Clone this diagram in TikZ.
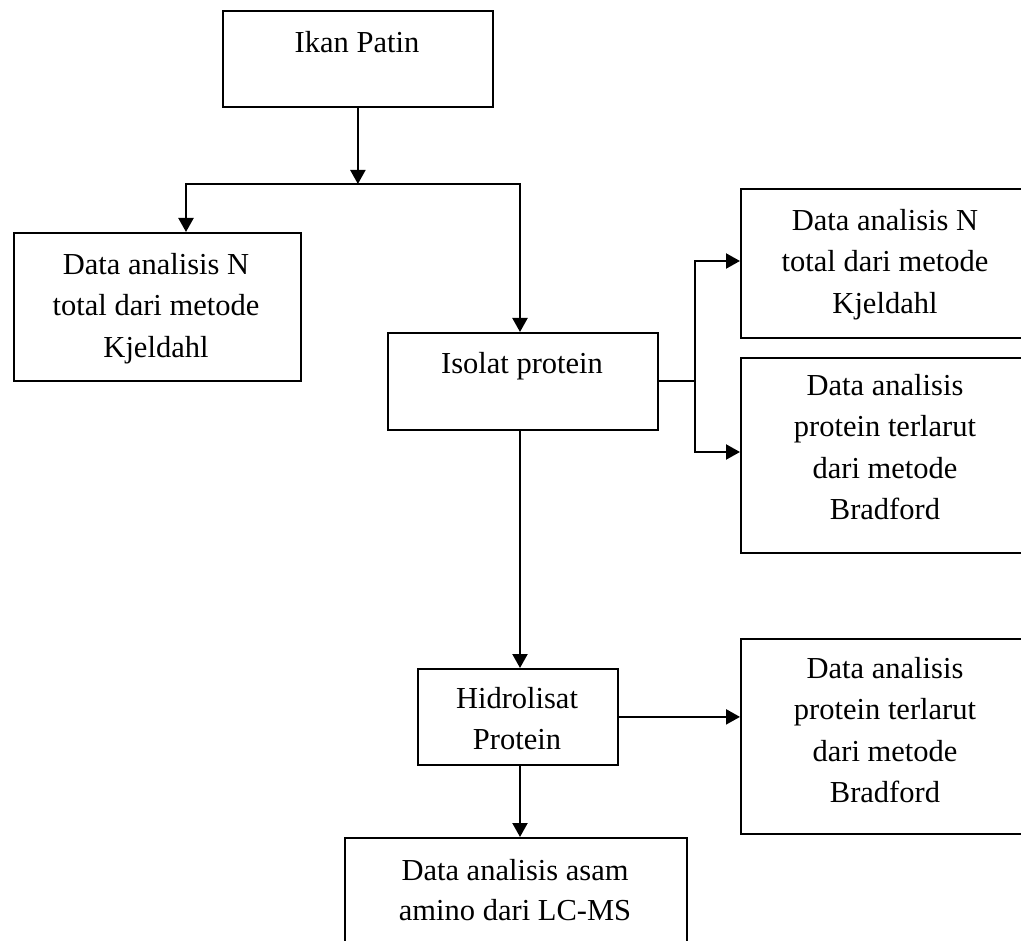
\documentclass[tikz,border=0pt]{standalone}
\usepackage{fontspec}
\setmainfont{Liberation Serif}
\usetikzlibrary{arrows.meta}
\begin{document}
\begin{tikzpicture}[x=1pt,y=-1pt,
  boxst/.style={draw=black,line width=1.8pt,inner sep=0pt,anchor=north west,rectangle},
  txt/.style={anchor=north,align=center,inner sep=0pt,font={\fontsize{30.5}{41.5}\selectfont}},
  ln/.style={draw=black,line width=2.2pt},
  arr/.style={ln,-{Triangle[length=14pt,width=15pt]}}]
\useasboundingbox (0,0) rectangle (1021,941);
\clip (0,0) rectangle (1021,941);
% boxes
\node[boxst,minimum width=270pt,minimum height=96pt] (ikan) at (222,10) {};
\node[boxst,minimum width=287pt,minimum height=148pt] (left) at (13,232) {};
\node[boxst,minimum width=270pt,minimum height=97pt] (iso) at (387,332) {};
\node[boxst,minimum width=300pt,minimum height=149pt] (rt1) at (740,188) {};
\node[boxst,minimum width=300pt,minimum height=195pt] (rt2) at (740,357) {};
\node[boxst,minimum width=300pt,minimum height=195pt] (rt3) at (740,638) {};
\node[boxst,minimum width=200pt,minimum height=96pt] (hid) at (417,668) {};
\node[boxst,minimum width=342pt,minimum height=140pt] (bot) at (344,837) {};
% texts
\node[txt] (ikanT) at (357,30) {\rule{0pt}{22pt}Ikan Patin};
\node[txt] (leftT) at (156,252) {\rule{0pt}{22pt}Data analisis N\\total dari metode\\Kjeldahl};
\node[txt] (isoT) at (522,351) {\rule{0pt}{22pt}Isolat protein};
\node[txt] (rt1T) at (885,208) {\rule{0pt}{22pt}Data analisis N\\total dari metode\\Kjeldahl};
\node[txt] (rt2T) at (885,373) {\rule{0pt}{22pt}Data analisis\\protein terlarut\\dari metode\\Bradford};
\node[txt] (rt3T) at (885,656) {\rule{0pt}{22pt}Data analisis\\protein terlarut\\dari metode\\Bradford};
\node[txt] (hidT) at (517,686) {\rule{0pt}{22pt}Hidrolisat\\Protein};
\node[txt,font={\fontsize{30.5}{40.5}\selectfont}] (botT) at (515,858) {\rule{0pt}{22pt}Data analisis asam\\amino dari LC-MS};
% junction points
\coordinate (jL) at (186,184);
\coordinate (jR) at (520,184);
\coordinate (bT) at (695,261);
\coordinate (bB) at (695,452);
% connectors
\draw[arr] (ikan.south) -- (ikan.south |- jL);
\draw[ln,line cap=rect] (jL) -- (jR);
\draw[arr] (jL) -- (jL |- left.north);
\draw[arr] (jR) -- (jR |- iso.north);
\draw[ln] (iso.east) -- (iso.east -| bT);
\draw[ln,line cap=rect] (bT) -- (bB);
\draw[arr] (bT) -- (bT -| rt1.west);
\draw[arr] (bB) -- (bB -| rt2.west);
\draw[arr] (jR |- iso.south) -- (jR |- hid.north);
\draw[arr] (hid.east) -- (hid.east -| rt3.west);
\draw[arr] (jR |- hid.south) -- (jR |- bot.north);
\end{tikzpicture}
\end{document}
